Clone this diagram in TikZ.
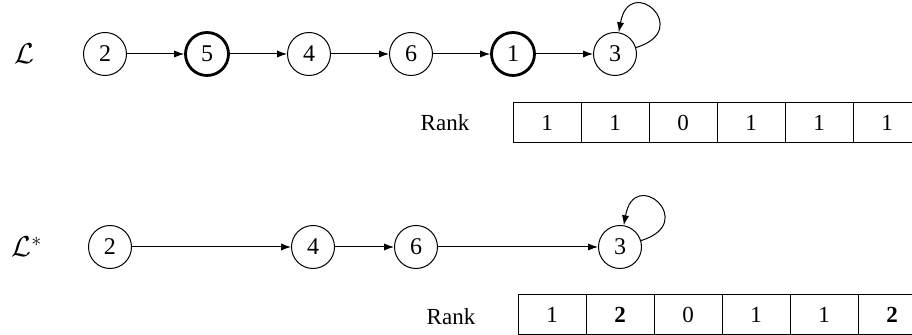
\documentclass[tikz,border=0pt]{standalone}
\usepackage{fontspec}
\setmainfont{Liberation Serif}
\usetikzlibrary{arrows.meta}

\begin{document}
\begin{tikzpicture}[x=0.5pt,y=-0.5pt,
	elem/.style={circle,draw,line width=0.5pt,minimum size=21.5pt,inner sep=0pt,font=\fontsize{12}{14}\selectfont},
	marked/.style={elem,line width=1.4pt},
	cell/.style={rectangle,draw,line width=0.5pt,minimum width=34pt,minimum height=20pt,inner sep=0pt,font=\fontsize{11.5}{13}\selectfont},
	link/.style={-{Latex[length=5pt,width=3.6pt]},line width=0.5pt}]
	\useasboundingbox (0,0) rectangle (912,335);
	
	% list L
	\node (lab1) at (24,54) {\Large$\mathcal{L}$};
	\node[elem] (a2) at (105,54) {2};
	\node[marked] (a5) at (207,54) {5};
	\node[elem] (a4) at (309,54) {4};
	\node[elem] (a6) at (411,54) {6};
	\node[marked] (a1) at (513,54) {1};
	\node[elem] (a3) at (615,54) {3};
	\draw[link] (a2) -- (a5);
	\draw[link] (a5) -- (a4);
	\draw[link] (a4) -- (a6);
	\draw[link] (a6) -- (a1);
	\draw[link] (a1) -- (a3);
	\draw[link] (a3) to[out=17,in=80,looseness=6.8] (a3);
	
	\node[font=\fontsize{11.5}{13}\selectfont] (rank1) at (445,123) {Rank};
	\foreach \v [count=\i] in {1,1,0,1,1,1}{
		\node[cell] (p\i) at (547+68*\i-68,122.5) {\v};
	}
	
	% list L*
	\node (lab2) at (27,247) {\Large$\mathcal{L}^*$};
	\node[elem] (b2) at (110,247) {2};
	\node[elem] (b4) at (313,247) {4};
	\node[elem] (b6) at (416,247) {6};
	\node[elem] (b3) at (620,247) {3};
	\draw[link] (b2) -- (b4);
	\draw[link] (b4) -- (b6);
	\draw[link] (b6) -- (b3);
	\draw[link] (b3) to[out=17,in=80,looseness=6.8] (b3);
	
	\node[font=\fontsize{11.5}{13}\selectfont] (rank2) at (451,317) {Rank};
	\foreach \v [count=\i] in {1,\textbf{2},0,1,1,\textbf{2}}{
		\node[cell] (q\i) at (552+68*\i-68,315) {\v};
	}
	
\end{tikzpicture}
\end{document}
